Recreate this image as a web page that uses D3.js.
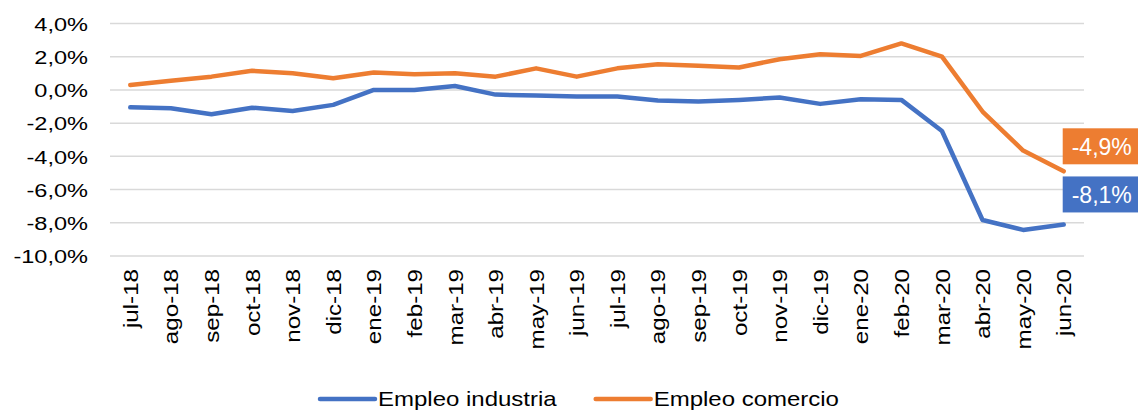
<!DOCTYPE html>
<html>
<head>
<meta charset="utf-8">
<script src="https://cdn.jsdelivr.net/npm/d3@7"></script>
<style>
  body { margin: 0; background: #fff; }
  svg { display: block; font-family: "Liberation Sans", Arial, sans-serif; }
</style>
</head>
<body>
<svg id="chart" width="1138" height="412"></svg>
<script>
// months on the x axis
const months = ["jul-18", "ago-18", "sep-18", "oct-18", "nov-18", "dic-18",
    "ene-19", "feb-19", "mar-19", "abr-19", "may-19", "jun-19",
    "jul-19", "ago-19", "sep-19", "oct-19", "nov-19", "dic-19",
    "ene-20", "feb-20", "mar-20", "abr-20", "may-20", "jun-20"];

// year-on-year change, %
const industria = [-1.05, -1.1, -1.47, -1.07, -1.27, -0.9,
    0.0, 0.0, 0.24, -0.28, -0.34, -0.4,
    -0.4, -0.64, -0.7, -0.6, -0.46, -0.84,
    -0.56, -0.6, -2.47, -7.83, -8.43, -8.1];

const comercio = [0.3, 0.55, 0.8, 1.15, 1.0, 0.7,
    1.05, 0.95, 1.0, 0.8, 1.3, 0.8,
    1.3, 1.55, 1.45, 1.35, 1.85, 2.15,
    2.05, 2.8, 2.0, -1.3, -3.65, -4.9];

const yTicks = [4, 2, 0, -2, -4, -6, -8, -10];

const series = [
    { name: "Empleo industria", values: industria, color: "#4472C4", labelShift: -30 },
    { name: "Empleo comercio", values: comercio, color: "#ED7D31", labelShift: -25 }
];

const fmt = v => d3.format(".1f")(v).replace(".", ",").replace("−", "-") + "%";

const svg = d3.select("#chart");
const plot = { left: 110, right: 1084, top: 23.5, bottom: 256 };

const x = d3.scaleBand()
    .domain(months)
    .range([plot.left, plot.right]);

const y = d3.scaleLinear()
    .domain([-10, 4])
    .range([plot.bottom, plot.top]);

const cx = d => x(d) + x.bandwidth() / 2;

// Horizontal grid lines
svg.append("g")
    .selectAll("line")
    .data(yTicks)
    .enter()
    .append("line")
    .attr("x1", plot.left)
    .attr("x2", plot.right)
    .attr("y1", d => y(d))
    .attr("y2", d => y(d))
    .attr("stroke", "#d9d9d9")
    .attr("stroke-width", 1.5);

// Y axis labels (text is a bit wider than plain Arial in the source)
const yStretch = 1.24;
const yAxis = d3.axisLeft(y)
    .tickValues(yTicks)
    .tickSize(0)
    .tickFormat(d => fmt(d));

const yAxisGroup = svg.append("g")
    .attr("transform", `translate(${plot.left},0)`)
    .call(yAxis);
yAxisGroup.select(".domain").remove();
yAxisGroup.selectAll("text")
    .attr("fill", "#000")
    .style("font-size", "19px")
    .attr("transform", `scale(${yStretch},1)`)
    .attr("x", -22 / yStretch)
    .attr("dy", "0.36em");

// X axis labels, rotated
const xStretch = 1.15;
const xAxis = d3.axisBottom(x)
    .tickSize(0)
    .tickPadding(0);

const xAxisGroup = svg.append("g")
    .attr("transform", `translate(0,${plot.bottom})`)
    .call(xAxis);
xAxisGroup.select(".domain").remove();
xAxisGroup.selectAll("text")
    .attr("fill", "#000")
    .style("font-size", "21px")
    .style("text-anchor", "end")
    .attr("transform", `rotate(-90) scale(${xStretch},1)`)
    .attr("x", -13 / xStretch)
    .attr("y", 0)
    .attr("dy", "0.36em");

// Lines
const line = d3.line()
    .x((d, i) => cx(months[i]))
    .y(d => y(d));

svg.append("g")
    .selectAll("path")
    .data(series)
    .enter()
    .append("path")
    .attr("d", d => line(d.values))
    .attr("fill", "none")
    .attr("stroke", d => d.color)
    .attr("stroke-width", 4.5)
    .attr("stroke-linejoin", "round")
    .attr("stroke-linecap", "round");

// End labels
const last = months.length - 1;
series.forEach(s => {
    const v = s.values[last];
    const g = svg.append("g")
        .attr("transform", `translate(${cx(months[last]) - 1},${y(v) + s.labelShift})`);
    const t = g.append("text")
        .attr("x", 9)
        .attr("dy", "0.36em")
        .attr("fill", "#fff")
        .style("font-size", "23px")
        .text(fmt(v));
    const w = t.node().getComputedTextLength();
    g.insert("rect", "text")
        .attr("x", 0)
        .attr("y", -18)
        .attr("width", w + 18)
        .attr("height", 36)
        .attr("fill", s.color);
});

// Legend
const legStretch = 1.2;
const legend = svg.append("g")
    .attr("transform", "translate(320,399)");
let lx = 0;
series.forEach(s => {
    const g = legend.append("g").attr("transform", `translate(${lx},0)`);
    g.append("line")
        .attr("x1", 0)
        .attr("x2", 55)
        .attr("stroke", s.color)
        .attr("stroke-width", 4.5)
        .attr("stroke-linecap", "round");
    const t = g.append("text")
        .attr("transform", `translate(58,0) scale(${legStretch},1)`)
        .attr("dy", "0.36em")
        .style("font-size", "20px")
        .attr("fill", "#000")
        .text(s.name);
    lx += 58 + t.node().getComputedTextLength() * legStretch + 39;
});
</script>
</body>
</html>
